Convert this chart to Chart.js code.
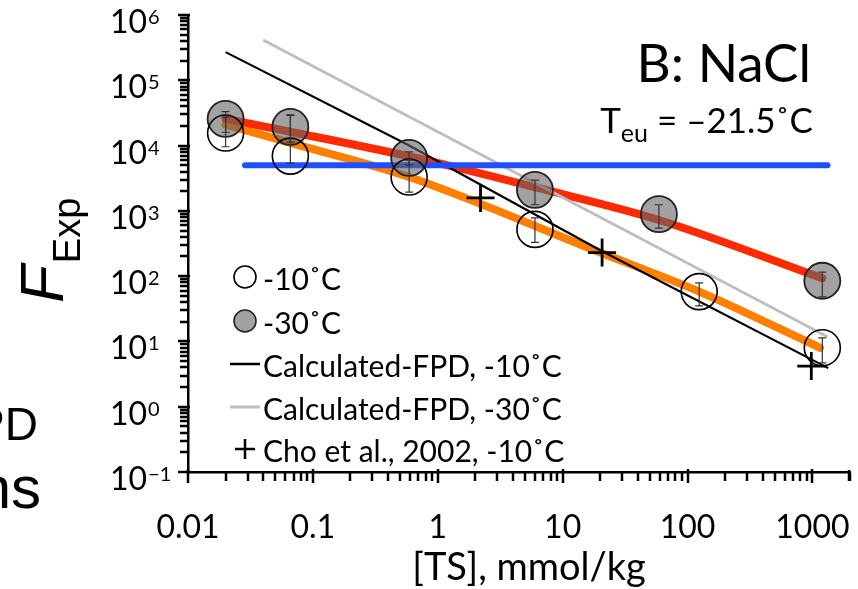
<!DOCTYPE html>
<html lang="en">
<head>
<meta charset="UTF-8">
<title>F_Exp vs [TS] - NaCl</title>
<script src="https://cdn.jsdelivr.net/npm/chart.js"></script>
<style>
  html, body { margin: 0; padding: 0; background: #fff; }
</style>
</head>
<body>
<canvas id="chart" width="858" height="589"></canvas>
<script>
// axis labels
const xTickVals = [0.01, 0.1, 1, 10, 100, 1000];
const xTickLabels = ['0.01', '0.1', '1', '10', '100', '1000'];
const yTickExps = [-1, 0, 1, 2, 3, 4, 5, 6];

// measured F_Exp, -10 C (open circles)
const ts10 = [0.02, 0.066, 0.59, 6.0, 124, 1200];
const fExp10 = [15600, 6900, 3300, 520, 58, 8.0];
const fExp10Hi = [27000, 29000, 6000, 780, 79, 11.3];
const fExp10Lo = [9600, 5400, 1940, 330, 35, 4.7];

// measured F_Exp, -30 C (gray circles)
const ts30 = [0.02, 0.066, 0.59, 6.0, 59, 1200];
const fExp30 = [25700, 19300, 6500, 2100, 890, 85];
const fExp30Hi = [33000, 29500, 8000, 2950, 1240, 115];
const fExp30Lo = [16000, 11300, 5000, 1240, 545, 48];

// Cho et al., 2002, -10 C
const tsCho = [2.2, 20.7, 980];
const fCho = [1580, 230, 4.2];

// calculated FPD
const tsCalc10 = [0.02, 0.59, 20, 1340];
const fCalc10 = [270000, 10000, 250, 3.9];
const tsCalc30 = [0.04, 1320];
const fCalc30 = [414000, 11.8];

// fitted curves
const tsFit30 = [0.02, 0.066, 0.8, 6.0, 59, 1200];
const fFit30 = [25700, 16300, 6000, 2300, 725, 93];
const tsFit10 = [0.02, 0.066, 0.59, 20, 124, 1150];
const fFit10 = [21000, 11000, 3300, 230, 58, 8.0];

// eutectic level
const tsEu = [0.0286, 1320];
const fEu = [5000, 5000];

const pts = (xs, ys) => xs.map((x, i) => ({ x: x, y: ys[i] }));

const LATO = 'Lato, "Open Sans", sans-serif';
const ARIAL = '"Liberation Sans", Arial, sans-serif';

const decor = {
  id: 'decor',
  afterDatasetsDraw(chart) {
    // error bars
    const ctx = chart.ctx, xs = chart.scales.x, ys = chart.scales.y;
    ctx.save();
    ctx.strokeStyle = '#333';
    ctx.lineWidth = 1.2;
    const bars = (tx, hi, lo) => {
      tx.forEach((t, i) => {
        const px = xs.getPixelForValue(t);
        const y1 = ys.getPixelForValue(hi[i]), y2 = ys.getPixelForValue(lo[i]);
        ctx.beginPath();
        ctx.moveTo(px, y1); ctx.lineTo(px, y2);
        ctx.moveTo(px - 4, y1); ctx.lineTo(px + 4, y1);
        ctx.moveTo(px - 4, y2); ctx.lineTo(px + 4, y2);
        ctx.stroke();
      });
    };
    bars(ts30, fExp30Hi, fExp30Lo);
    bars(ts10, fExp10Hi, fExp10Lo);
    ctx.restore();
  },
  afterDraw(chart) {
    const ctx = chart.ctx, xs = chart.scales.x, ys = chart.scales.y;
    const area = chart.chartArea;
    const ax = area.left - 1, ay = area.bottom + 1;
    ctx.save();
    ctx.strokeStyle = '#000';
    ctx.lineWidth = 2.5;
    // y ticks
    ctx.beginPath();
    for (let e = -1; e <= 6; e++) {
      for (let k = 1; k <= 9; k++) {
        const v = k * Math.pow(10, e);
        if (v > 1e6 * 1.0001) break;
        const py = Math.round(ys.getPixelForValue(v));
        if (k === 1) { ctx.moveTo(ax - 9, py); ctx.lineTo(ax + 3, py); }
        else { ctx.moveTo(ax - 7, py); ctx.lineTo(ax + 1, py); }
      }
    }
    // x ticks
    for (let e = -2; e <= 3; e++) {
      for (let k = 1; k <= 9; k++) {
        const v = k * Math.pow(10, e);
        if (v > 2000 * 1.0001) break;
        const px = Math.round(xs.getPixelForValue(v));
        if (k === 1) { ctx.moveTo(px, ay - 4); ctx.lineTo(px, ay + 10); }
        else { ctx.moveTo(px, ay); ctx.lineTo(px, ay + 8); }
      }
    }
    ctx.moveTo(xs.getPixelForValue(2000) - 1, ay - 3); ctx.lineTo(xs.getPixelForValue(2000) - 1, ay + 8);
    ctx.stroke();

    ctx.fillStyle = '#000';
    // y tick labels 10^n
    yTickExps.forEach(e => {
      const py = ys.getPixelForValue(Math.pow(10, e));
      ctx.font = '32px ' + LATO;
      ctx.textAlign = 'left';
      ctx.textBaseline = 'alphabetic';
      ctx.fillText('10', 110, py + 18);
      const w = ctx.measureText('10').width;
      ctx.font = '20px ' + LATO;
      ctx.fillText(e < 0 ? '\u2212' + (-e) : String(e), 110 + w + 1, py + 9);
    });
    // x tick labels
    ctx.font = '32px ' + LATO;
    ctx.textAlign = 'center';
    xTickVals.forEach((v, i) => {
      ctx.fillText(xTickLabels[i], xs.getPixelForValue(v), 538);
    });
    // x title
    ctx.font = '38px ' + LATO;
    ctx.fillText('[TS], mmol/kg', 529, 580);

    // y title F_Exp
    ctx.save();
    ctx.translate(63, 303);
    ctx.rotate(-Math.PI / 2);
    ctx.textAlign = 'left';
    ctx.font = 'italic 62px ' + ARIAL;
    ctx.fillText('F', 0, 0);
    const fw = ctx.measureText('F').width;
    ctx.font = '38px ' + ARIAL;
    ctx.fillText('Exp', fw + 2, 17);
    ctx.restore();

    // panel title
    ctx.textAlign = 'right';
    ctx.font = '53px ' + LATO;
    ctx.fillText('B: NaCl', 811, 82);
    // Teu = -21.5 C
    ctx.font = '35px ' + LATO;
    const tail = ' = \u201321.5\u02daC';
    const tw = ctx.measureText(tail).width;
    ctx.fillText(tail, 813, 133);
    ctx.font = '25px ' + LATO;
    const sw = ctx.measureText('eu').width;
    ctx.fillText('eu', 813 - tw, 142);
    ctx.font = '35px ' + LATO;
    ctx.fillText('T', 813 - tw - sw, 133);

    // fragments of the neighbouring panel
    ctx.font = '46px ' + ARIAL;
    ctx.fillText('PD', 38, 440);
    ctx.font = '60px ' + ARIAL;
    ctx.fillText('ns', 41, 508);

    // legend
    const lx = 245, tx = 263;
    ctx.textAlign = 'left';
    ctx.font = '30px ' + LATO;
    ctx.lineWidth = 1.6;
    ctx.strokeStyle = '#000';
    ctx.beginPath(); ctx.arc(lx, 277, 11, 0, Math.PI * 2); ctx.stroke();
    ctx.fillText('-10\u02daC', tx, 290);
    ctx.beginPath(); ctx.arc(lx, 321, 11, 0, Math.PI * 2);
    ctx.fillStyle = '#a2a2a2'; ctx.fill(); ctx.strokeStyle = '#222'; ctx.stroke();
    ctx.fillStyle = '#000';
    ctx.fillText('-30\u02daC', tx, 334);
    ctx.lineWidth = 2.5; ctx.strokeStyle = '#000';
    ctx.beginPath(); ctx.moveTo(230, 364); ctx.lineTo(260, 364); ctx.stroke();
    ctx.fillText('Calculated-FPD, -10\u02daC', tx, 377);
    ctx.strokeStyle = '#bdbdbd'; ctx.lineWidth = 3;
    ctx.beginPath(); ctx.moveTo(230, 407); ctx.lineTo(260, 407); ctx.stroke();
    ctx.fillText('Calculated-FPD, -30\u02daC', tx, 420);
    ctx.strokeStyle = '#000'; ctx.lineWidth = 2.5;
    ctx.beginPath();
    ctx.moveTo(lx - 10, 449); ctx.lineTo(lx + 10, 449);
    ctx.moveTo(lx, 439); ctx.lineTo(lx, 459);
    ctx.stroke();
    ctx.fillText('Cho et al., 2002, -10\u02daC', tx, 462);
    ctx.restore();
  }
};

const ctx = document.getElementById('chart').getContext('2d');
const chart = new Chart(ctx, {
  type: 'scatter',
  data: {
    datasets: [
      { label: 'Cho et al., 2002, -10\u02daC', data: pts(tsCho, fCho), order: 0,
        pointStyle: 'cross', pointRadius: 14, borderColor: '#000', borderWidth: 2.8 },
      { label: '-10\u02daC', data: pts(ts10, fExp10), order: 1,
        pointRadius: 18, backgroundColor: 'rgba(0,0,0,0)', borderColor: '#000', borderWidth: 1.6 },
      { label: '-30\u02daC', data: pts(ts30, fExp30), order: 2,
        pointRadius: 18, backgroundColor: 'rgba(100,100,100,0.6)', borderColor: '#222', borderWidth: 1.8 },
      { label: 'eutectic', data: pts(tsEu, fEu), order: 3, showLine: true, pointRadius: 0,
        borderColor: '#1f4fff', borderWidth: 6, borderCapStyle: 'round' },
      { label: 'Calculated-FPD, -10\u02daC', data: pts(tsCalc10, fCalc10), order: 4, showLine: true,
        pointRadius: 0, borderColor: '#000', borderWidth: 2.2 },
      { label: 'Calculated-FPD, -30\u02daC', data: pts(tsCalc30, fCalc30), order: 5, showLine: true,
        pointRadius: 0, borderColor: '#bdbdbd', borderWidth: 2.6 },
      { label: 'fit -30', data: pts(tsFit30, fFit30), order: 6, showLine: true, pointRadius: 0,
        borderColor: '#ff2a00', borderWidth: 8, borderCapStyle: 'round', cubicInterpolationMode: 'monotone' },
      { label: 'fit -10', data: pts(tsFit10, fFit10), order: 7, showLine: true, pointRadius: 0,
        borderColor: '#ff8000', borderWidth: 8, borderCapStyle: 'round', cubicInterpolationMode: 'monotone' }
    ]
  },
  options: {
    responsive: false,
    animation: false,
    devicePixelRatio: 1,
    layout: { autoPadding: false, padding: { top: 15, right: 8, left: 0, bottom: 0 } },
    plugins: { legend: { display: false }, tooltip: { enabled: false } },
    scales: {
      x: {
        type: 'logarithmic', min: 0.01, max: 2000,
        grid: { display: false },
        border: { display: true, color: '#000', width: 2.5 },
        ticks: { display: false },
        afterFit: s => { s.height = 117; }
      },
      y: {
        type: 'logarithmic', min: 0.1, max: 1e6,
        grid: { display: false },
        border: { display: true, color: '#000', width: 2.5 },
        ticks: { display: false },
        afterFit: s => { s.width = 188; }
      }
    }
  },
  plugins: [decor]
});
</script>
</body>
</html>
